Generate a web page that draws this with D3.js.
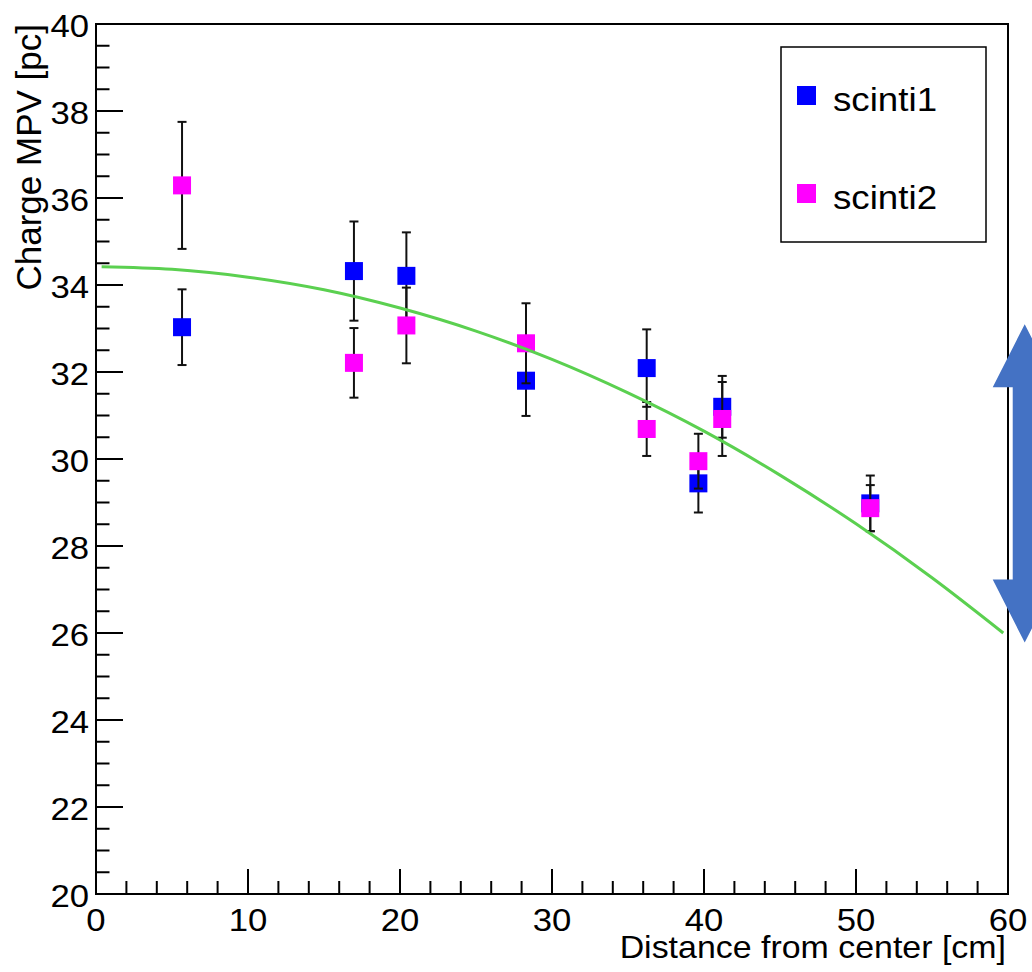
<!DOCTYPE html>
<html>
<head>
<meta charset="utf-8">
<script src="https://cdn.jsdelivr.net/npm/d3@7"></script>
<style>
  body { margin: 0; background: #fff; }
  svg text { font-family: "Liberation Sans", Arial, Helvetica, sans-serif; fill: #000; }
</style>
</head>
<body>
<div id="chart"></div>
<script>
"use strict";

// Data
const distance = [5.66, 16.97, 20.42, 28.29, 36.23, 39.63, 41.2, 50.94];
const scinti1 = [33.03, 34.32, 34.21, 31.80, 32.09, 29.44, 31.20, 28.98];
const scinti1Err = [0.87, 1.14, 1.0, 0.81, 0.89, 0.67, 0.71, 0.64];
const scinti2 = [36.29, 32.21, 33.07, 32.66, 30.69, 29.95, 30.92, 28.87];
const scinti2Err = [1.46, 0.80, 0.87, 0.92, 0.62, 0.63, 0.85, 0.53];

// Fit curve
const fitX = [0.37, 5, 10, 15, 20, 25, 30, 35, 40, 45, 50, 55, 59.69];
const fitY = [34.42, 34.36, 34.18, 33.89, 33.47, 32.94, 32.29, 31.52, 30.64, 29.63, 28.51, 27.27, 26.0];

const xTicks = [0, 10, 20, 30, 40, 50, 60];
const yTicks = [20, 22, 24, 26, 28, 30, 32, 34, 36, 38, 40];
const seriesNames = ["scinti1", "scinti2"];
const seriesColors = ["#0000ff", "#ff00ff"];

// Size of SVG
const w = 1032;
const h = 972;

const x = d3.scaleLinear().domain([0, 60]).range([96, 1008]);
const y = d3.scaleLinear().domain([20, 40]).range([894, 24]);

const svg = d3.select("#chart")
	.append("svg")
	.attr("width", w)
	.attr("height", h);

// helper for stretched text (reference font is wider than Liberation Sans)
function label(g, tx, ty, txt, size, sx, anchor, rot) {
	return g.append("text")
		.attr("transform", `translate(${tx},${ty}) rotate(${rot || 0}) scale(${sx},1)`)
		.attr("text-anchor", anchor)
		.style("font-size", size + "px")
		.text(txt);
}

// Ticks: y axis (minor every 0.5)
const yMinor = d3.range(20, 40.01, 0.5);
svg.append("g").selectAll("line")
	.data(yMinor)
	.enter().append("line")
	.attr("x1", x(0))
	.attr("x2", d => x(0) + (d % 2 === 0 ? 27 : 13.5))
	.attr("y1", d => y(d))
	.attr("y2", d => y(d))
	.attr("stroke", "#000")
	.attr("stroke-width", 2);

// Ticks: x axis (minor every 2)
const xMinor = d3.range(0, 60.01, 2);
svg.append("g").selectAll("line")
	.data(xMinor)
	.enter().append("line")
	.attr("x1", d => x(d))
	.attr("x2", d => x(d))
	.attr("y1", y(20))
	.attr("y2", d => y(20) - (d % 10 === 0 ? 25 : 13))
	.attr("stroke", "#000")
	.attr("stroke-width", 2);

// Frame
svg.append("rect")
	.attr("x", x(0))
	.attr("y", y(40))
	.attr("width", x(60) - x(0))
	.attr("height", y(20) - y(40))
	.attr("fill", "none")
	.attr("stroke", "#000")
	.attr("stroke-width", 2);

// Tick labels
const yLab = svg.append("g");
yTicks.forEach(t => label(yLab, 89, y(t) + 13, t, 31, 1.12, "end"));
const xLab = svg.append("g");
xTicks.forEach(t => label(xLab, x(t), 931, t, 31, 1.12, "middle"));

// Axis titles
label(svg, 1006, 958, "Distance from center [cm]", 32, 1.06, "end");
label(svg, 41, 24, "Charge MPV [pc]", 35, 1.0, "end", -90);

// Points with error bars
const series = [
	{ name: seriesNames[0], color: seriesColors[0], vals: scinti1, errs: scinti1Err },
	{ name: seriesNames[1], color: seriesColors[1], vals: scinti2, errs: scinti2Err }
];

series.forEach(s => {
	const g = svg.append("g");
	const pts = distance.map((d, i) => ({ x: d, y: s.vals[i], e: s.errs[i] }));
	g.selectAll(".bar")
		.data(pts)
		.enter().append("line")
		.attr("x1", d => x(d.x))
		.attr("x2", d => x(d.x))
		.attr("y1", d => y(d.y + d.e))
		.attr("y2", d => y(d.y - d.e))
		.attr("stroke", "#111")
		.attr("stroke-width", 2);
	[1, -1].forEach(sign => {
		g.selectAll(".cap" + sign)
			.data(pts)
			.enter().append("line")
			.attr("x1", d => x(d.x) - 4.5)
			.attr("x2", d => x(d.x) + 4.5)
			.attr("y1", d => y(d.y + sign * d.e))
			.attr("y2", d => y(d.y + sign * d.e))
			.attr("stroke", "#111")
			.attr("stroke-width", 2);
	});
	g.selectAll("rect")
		.data(pts)
		.enter().append("rect")
		.attr("x", d => x(d.x) - 9)
		.attr("y", d => y(d.y) - 9)
		.attr("width", 18)
		.attr("height", 18)
		.attr("fill", s.color);
});

// Fit curve
const fit = fitX.map((d, i) => [d, fitY[i]]);
svg.append("path")
	.datum(fit)
	.attr("fill", "none")
	.attr("stroke", "#5bd050")
	.attr("stroke-width", 3)
	.attr("d", d3.line().x(d => x(d[0])).y(d => y(d[1])).curve(d3.curveMonotoneX));

// Legend
const leg = svg.append("g");
leg.append("rect")
	.attr("x", 781)
	.attr("y", 47)
	.attr("width", 205)
	.attr("height", 195)
	.attr("fill", "#fff")
	.attr("stroke", "#000")
	.attr("stroke-width", 1.5);
series.forEach((s, i) => {
	const cy = 95.5 + i * 98;
	leg.append("rect")
		.attr("x", 797)
		.attr("y", cy - 9.5)
		.attr("width", 19)
		.attr("height", 19)
		.attr("fill", s.color);
	label(leg, 833, cy + 15.5, s.name, 34, 1.08, "start");
});

// Blue double arrow annotation on the right edge
const arrowX = 61.1, arrowTop = 33.1, arrowBottom = 25.78;
const ax = x(arrowX), at = y(arrowTop), ab = y(arrowBottom);
const headLen = 63, headHalf = 32, shaftHalf = 12;
const arrowPts = [
	[ax, at], [ax + headHalf, at + headLen], [ax + shaftHalf, at + headLen],
	[ax + shaftHalf, ab - headLen], [ax + headHalf, ab - headLen], [ax, ab],
	[ax - headHalf, ab - headLen], [ax - shaftHalf, ab - headLen],
	[ax - shaftHalf, at + headLen], [ax - headHalf, at + headLen]
];
svg.append("path")
	.attr("d", d3.line()(arrowPts) + "Z")
	.attr("fill", "#4472c4");
</script>
</body>
</html>
